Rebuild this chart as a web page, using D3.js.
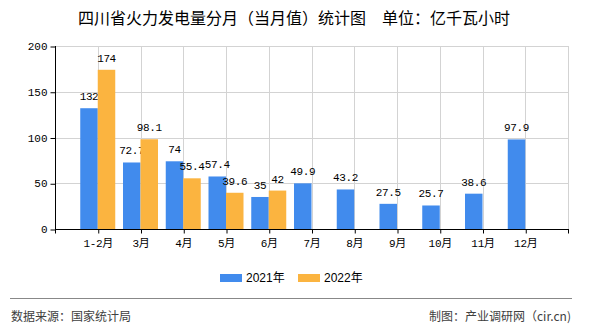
<!DOCTYPE html>
<html><head><meta charset="utf-8">
<script src="https://cdn.jsdelivr.net/npm/d3@7"></script>
<style>
html,body{margin:0;padding:0;background:#fff;}
svg{display:block;}
</style></head>
<body><svg id="c" width="590" height="330"></svg>
<script>
const categories = ["1-2月","3月","4月","5月","6月","7月","8月","9月","10月","11月","12月"];
const series2021 = [132,72.7,74,57.4,35,49.9,43.2,27.5,25.7,38.6,97.9];
const series2022 = [174,98.1,55.4,39.6,42,null,null,null,null,null,null];
const seriesNames = ["2021年","2022年"];
const yTicks = [0,50,100,150,200];
const colors = ["#418bed","#fbb440"];
const title = "四川省火力发电量分月（当月值）统计图\u3000单位：亿千瓦小时";
const sourceText = "数据来源：国家统计局";
const creditText = "制图：产业调研网（cir.cn)";

const svg = d3.select("#c");
const L = 55, R = 568, T = 46, B = 229;
const x = d3.scalePoint().domain(categories).range([L, R]).padding(1);
const y = d3.scaleLinear().domain([0, 200]).range([B, T]);
const bw = 17.5;
const monoFont = "'Liberation Mono','Noto Sans CJK SC',monospace";
const cjk = "'Noto Sans CJK SC','Liberation Sans',sans-serif";

// title
svg.append("text").attr("x", 294).attr("y", 24).attr("text-anchor","middle")
  .style("font-family", cjk).style("font-size","16px").attr("fill","#000").text(title);

// gridlines
const g = svg.append("g");
g.selectAll(".hg").data(yTicks.filter(d=>d>0)).join("line")
  .attr("x1", L).attr("x2", R).attr("y1", d=>Math.round(y(d))+0.5).attr("y2", d=>Math.round(y(d))+0.5)
  .attr("stroke","#d3d3d3").attr("stroke-width",1);
g.selectAll(".vg").data(categories).join("line")
  .attr("x1", d=>Math.round(x(d))+0.5).attr("x2", d=>Math.round(x(d))+0.5)
  .attr("y1", T).attr("y2", B)
  .attr("stroke","#d3d3d3").attr("stroke-width",1);
g.append("line").attr("x1",R+0.5).attr("x2",R+0.5).attr("y1",T).attr("y2",B)
  .attr("stroke","#d3d3d3");

// bars
const data = categories.map((c,i)=>({c, v:[series2021[i], series2022[i]]}));
seriesNames.forEach((s,si)=>{
  const vals = data.filter(d=>d.v[si]!=null);
  svg.append("g").selectAll("rect").data(vals).join("rect")
    .attr("x", d=> si===0 ? x(d.c)-bw : x(d.c))
    .attr("width", bw)
    .attr("y", d=>y(d.v[si]))
    .attr("height", d=>y(0)-y(d.v[si]))
    .attr("fill", colors[si]);
  svg.append("g").selectAll("text").data(vals).join("text")
    .attr("x", d=> si===0 ? x(d.c)-bw/2 : x(d.c)+bw/2)
    .attr("y", d=>y(d.v[si])-8)
    .attr("text-anchor","middle")
    .style("font-family", monoFont).style("font-size","11px").style("letter-spacing","-0.4px")
    .attr("fill","#000")
    .text(d=>d.v[si]);
});

// axes
const ya = svg.append("g").attr("transform",`translate(${L+0.5},0)`)
  .call(d3.axisLeft(y).tickValues(yTicks).tickSize(5).tickPadding(3));
ya.select(".domain").attr("stroke","#000").attr("d",`M0,${T}V${B+0.5}`);
ya.selectAll(".tick line").attr("stroke","#000").attr("transform","translate(0,0.5)");
ya.selectAll(".tick text").style("font-family",monoFont).style("font-size","11px").attr("fill","#000");

const xa = svg.append("g").attr("transform",`translate(0,${B+0.5})`)
  .call(d3.axisBottom(x).tickSize(4).tickPadding(6));
xa.select(".domain").attr("stroke","#000").attr("d",`M${L},0H${R+1}`);
xa.selectAll(".tick line").attr("stroke","#000").attr("transform","translate(0.5,0)");
xa.selectAll(".tick text").style("font-family",monoFont).style("font-size","11px").style("letter-spacing","-0.3px").attr("fill","#000");
[L, R].forEach(px=>{
  xa.append("line").attr("x1",px+0.5).attr("x2",px+0.5).attr("y1",0).attr("y2",4).attr("stroke","#000");
});

// legend
const legX = [220, 298];
seriesNames.forEach((s,i)=>{
  svg.append("rect").attr("x",legX[i]).attr("y",274).attr("width",22).attr("height",8).attr("fill",colors[i]);
  svg.append("text").attr("x",legX[i]+26).attr("y",282)
    .style("font-family","'Liberation Sans','Noto Sans CJK SC',sans-serif").style("font-size","12px")
    .attr("fill","#000").text(s);
});

// footer
svg.append("line").attr("x1",10).attr("x2",572).attr("y1",298.5).attr("y2",298.5).attr("stroke","#888");
svg.append("text").attr("x",11).attr("y",321).style("font-family",cjk).style("font-size","12px")
  .attr("fill","#404040").text(sourceText);
svg.append("text").attr("x",571).attr("y",321).attr("text-anchor","end").style("font-family",cjk).style("font-size","12px")
  .attr("fill","#404040").text(creditText);
</script></body></html>
